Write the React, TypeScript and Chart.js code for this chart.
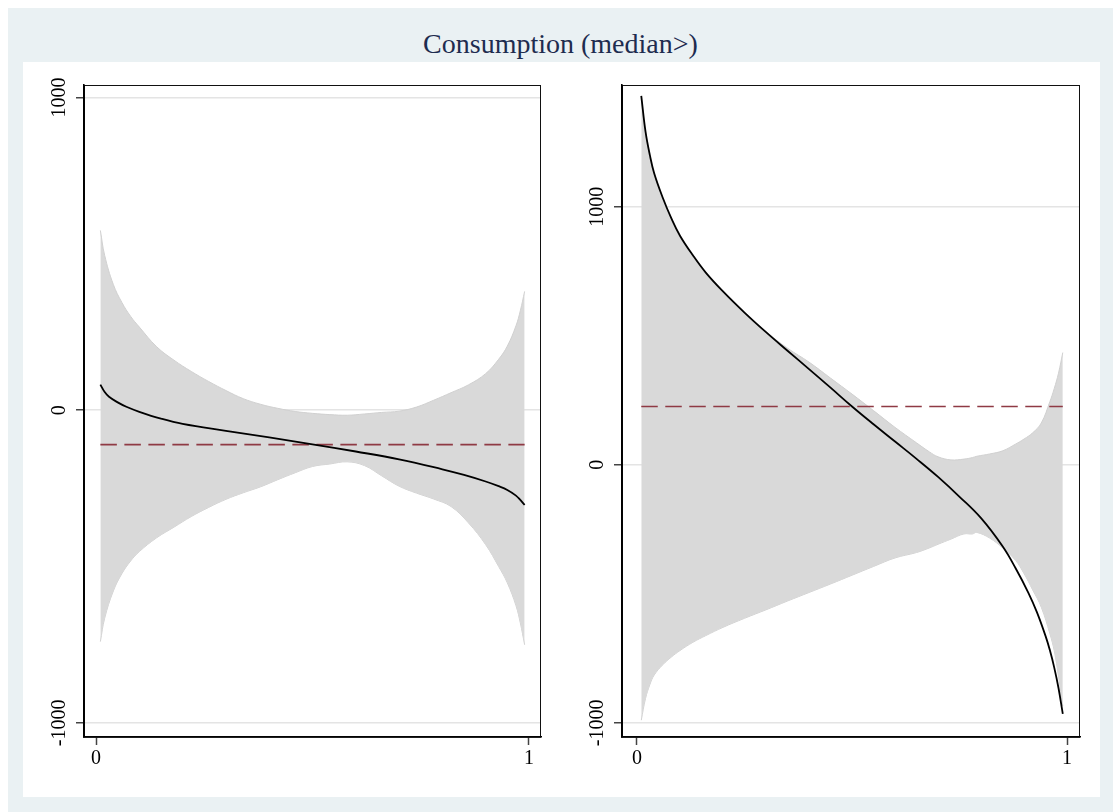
import React, { useEffect, useRef } from "react";
import { Chart, registerables } from "chart.js";

Chart.register(...registerables);

// ---------- data ----------
const titleText = "Consumption (median>)";
const xTicks = [0, 1];
const yTicks = [-1000, 0, 1000];

// Left panel
const leftBandX = [0.01, 0.02, 0.04, 0.06, 0.08, 0.1, 0.14, 0.18, 0.22, 0.26, 0.3, 0.34, 0.38, 0.42, 0.46, 0.5, 0.54, 0.58, 0.62, 0.66, 0.7, 0.74, 0.78, 0.82, 0.86, 0.9, 0.93, 0.95, 0.97, 0.98, 0.99];
const leftUpper = [575, 495, 402, 344, 300, 266, 203, 160, 124, 92, 63, 37, 19, 6, -4, -10, -14, -16, -12, -7, -3, 10, 32, 56, 81, 117, 163, 205, 270, 318, 380];
const leftLower = [-740, -665, -578, -522, -482, -452, -408, -374, -340, -311, -285, -264, -245, -222, -200, -180, -172, -165, -177, -210, -243, -265, -284, -308, -360, -430, -500, -552, -625, -680, -750];
const leftLineX = [0.01, 0.02, 0.03, 0.05, 0.07, 0.1, 0.15, 0.2, 0.3, 0.4, 0.5, 0.6, 0.7, 0.8, 0.85, 0.9, 0.93, 0.95, 0.97, 0.98, 0.99];
const leftLineY = [82, 58, 43, 25, 11, -5, -27, -44, -66, -87, -109, -132, -157, -189, -207, -228, -243, -255, -273, -287, -303];
const leftMeanX = [0.01, 0.99];
const leftMeanY = [-110, -110];

// Right panel
const rightBandX = [0.01, 0.02, 0.03, 0.04, 0.06, 0.08, 0.1, 0.13, 0.16, 0.2, 0.25, 0.3, 0.35, 0.4, 0.45, 0.5, 0.55, 0.6, 0.65, 0.68, 0.7, 0.73, 0.76, 0.78, 0.79, 0.82, 0.85, 0.88, 0.9, 0.92, 0.94, 0.96, 0.97, 0.98, 0.99];
const rightUpper = [1420, 1285, 1195, 1125, 1030, 952, 886, 812, 745, 670, 590, 516, 452, 398, 336, 274, 210, 145, 85, 50, 31, 19, 22, 28, 33, 42, 54, 80, 100, 124, 162, 245, 295, 355, 435];
const rightLower = [-990, -905, -852, -815, -775, -745, -720, -688, -662, -630, -595, -562, -528, -495, -462, -428, -394, -361, -340, -322, -308, -288, -268, -268, -262, -284, -322, -370, -422, -485, -552, -655, -720, -819, -935];
const rightLineX = [0.01, 0.02, 0.03, 0.04, 0.06, 0.08, 0.1, 0.13, 0.16, 0.2, 0.25, 0.3, 0.35, 0.4, 0.45, 0.5, 0.55, 0.6, 0.65, 0.7, 0.75, 0.8, 0.85, 0.88, 0.91, 0.93, 0.95, 0.96, 0.97, 0.98, 0.99];
const rightLineY = [1430, 1290, 1200, 1130, 1035, 955, 888, 812, 745, 672, 590, 514, 442, 371, 299, 226, 157, 90, 23, -47, -124, -207, -316, -400, -496, -572, -664, -719, -785, -865, -965];
const rightMeanX = [0.01, 0.99];
const rightMeanY = [226, 226];

// ---------- styling ----------
const FONT = '"Liberation Serif", "Times New Roman", serif';
const BG = "#eaf1f3";
const BAND = "#d9d9d9";
const BAND_EDGE = "#d0d0d0";
const MEAN_COLOR = "#8f3a44";

const pts = (xs: number[], ys: number[]) => xs.map((x, i) => ({ x, y: ys[i] }));

const framePlugin = {
  id: "stataFrame",
  afterDraw(chart: any) {
    const { ctx, chartArea: a, scales } = chart;
    const ys = scales.y;
    ctx.save();
    ctx.strokeStyle = "#111";
    ctx.lineWidth = 1;
    ctx.strokeRect(a.left + 0.5, a.top + 0.5, a.right - a.left - 1, a.bottom - a.top - 1);
    ctx.strokeStyle = "#000";
    ctx.lineWidth = 1.6;
    ctx.beginPath();
    ctx.moveTo(a.left, a.top);
    ctx.lineTo(a.left, a.bottom);
    ctx.lineTo(a.right, a.bottom);
    ctx.stroke();
    ctx.font = `20px ${FONT}`;
    ctx.fillStyle = "#000";
    ctx.textAlign = "center";
    ctx.textBaseline = "middle";
    for (const t of ys.ticks) {
      const py = ys.getPixelForValue(t.value);
      ctx.save();
      ctx.translate(a.left - 24, py);
      ctx.rotate(-Math.PI / 2);
      ctx.fillText(String(t.value), 0, 0);
      ctx.restore();
    }
    ctx.restore();
  },
};

interface PanelProps {
  width: number;
  height: number;
  yWidth: number;
  padRight: number;
  xMin: number;
  xMax: number;
  yMin: number;
  yMax: number;
  bandX: number[];
  upper: number[];
  lower: number[];
  lineX: number[];
  lineY: number[];
  meanX: number[];
  meanY: number[];
}

function Panel(p: PanelProps) {
  const ref = useRef<HTMLCanvasElement | null>(null);
  useEffect(() => {
    if (!ref.current) return;
    const chart = new Chart(ref.current, {
      type: "line",
      data: {
        datasets: [
          {
            data: pts(p.lineX, p.lineY),
            borderColor: "#000",
            borderWidth: 1.8,
            pointRadius: 0,
            fill: false,
            tension: 0.4,
          },
          {
            data: pts(p.meanX, p.meanY),
            borderColor: MEAN_COLOR,
            borderWidth: 1.6,
            borderDash: [16.5, 7.5],
            pointRadius: 0,
            fill: false,
          },
          {
            data: pts(p.bandX, p.upper),
            borderColor: BAND_EDGE,
            borderWidth: 1,
            backgroundColor: BAND,
            pointRadius: 0,
            fill: "+1",
            tension: 0.4,
          },
          {
            data: pts(p.bandX, p.lower),
            borderColor: BAND_EDGE,
            borderWidth: 1,
            pointRadius: 0,
            fill: false,
            tension: 0.4,
          },
        ],
      } as any,
      options: {
        animation: false,
        responsive: false,
        devicePixelRatio: 1,
        layout: { padding: { top: 23, right: p.padRight, left: 0, bottom: 0 } },
        plugins: { legend: { display: false }, tooltip: { enabled: false }, title: { display: false } },
        scales: {
          x: {
            type: "linear",
            min: p.xMin,
            max: p.xMax,
            afterBuildTicks: (s: any) => {
              s.ticks = xTicks.map((v) => ({ value: v }));
            },
            afterFit: (s: any) => {
              s.height = 60;
            },
            ticks: {
              font: { family: FONT, size: 20 },
              color: "#000",
              padding: 2,
              maxRotation: 0,
              callback: (v: any) => String(v),
            },
            grid: {
              drawOnChartArea: false,
              drawTicks: true,
              tickLength: 8,
              tickColor: "#444",
              tickWidth: 1.5,
            },
            border: { display: true, color: "#000", width: 1.6 },
          },
          y: {
            type: "linear",
            min: p.yMin,
            max: p.yMax,
            afterBuildTicks: (s: any) => {
              s.ticks = yTicks.map((v) => ({ value: v }));
            },
            afterFit: (s: any) => {
              s.width = p.yWidth;
            },
            ticks: { display: false },
            grid: {
              color: "#e4e4e4",
              lineWidth: 1.5,
              drawTicks: true,
              tickLength: 8,
              tickColor: "#444",
              tickWidth: 1.5,
            },
            border: { display: true, color: "#000", width: 1.6 },
          },
        },
      } as any,
      plugins: [framePlugin],
    });
    return () => chart.destroy();
  }, []);
  return <canvas ref={ref} width={p.width} height={p.height} style={{ display: "block", width: p.width, height: p.height }} />;
}

export default function App() {
  return (
    <div
      style={{
        position: "fixed",
        left: 8,
        top: 8,
        width: 1105,
        height: 804,
        background: BG,
        overflow: "hidden",
      }}
    >
      <div
        style={{
          position: "absolute",
          left: 0,
          top: 22,
          width: 1105,
          textAlign: "center",
          fontFamily: FONT,
          fontSize: 28,
          lineHeight: "28px",
          color: "#1e2c4f",
          whiteSpace: "nowrap",
        }}
      >
        {titleText}
      </div>
      <div
        style={{
          position: "absolute",
          left: 15,
          top: 54,
          width: 1077,
          height: 735,
          background: "#fff",
          display: "flex",
        }}
      >
        <Panel
          width={540}
          height={735}
          yWidth={61}
          padRight={22}
          xMin={-0.0278}
          xMax={1.0278}
          yMin={-1045}
          yMax={1040}
          bandX={leftBandX}
          upper={leftUpper}
          lower={leftLower}
          lineX={leftLineX}
          lineY={leftLineY}
          meanX={leftMeanX}
          meanY={leftMeanY}
        />
        <Panel
          width={537}
          height={735}
          yWidth={59}
          padRight={20}
          xMin={-0.0348}
          xMax={1.03}
          yMin={-1055}
          yMax={1472}
          bandX={rightBandX}
          upper={rightUpper}
          lower={rightLower}
          lineX={rightLineX}
          lineY={rightLineY}
          meanX={rightMeanX}
          meanY={rightMeanY}
        />
      </div>
    </div>
  );
}
